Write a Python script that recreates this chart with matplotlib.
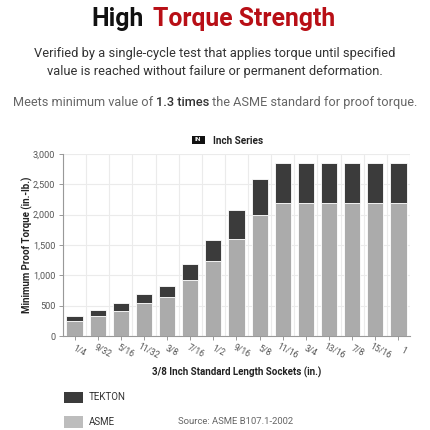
import matplotlib
matplotlib.use("Agg")
import matplotlib.pyplot as plt
import matplotlib.transforms as mtransforms
from matplotlib.patches import Rectangle
import numpy as np

plt.rcParams['font.family'] = ['Roboto', 'DejaVu Sans']

sizes = ["1/4", "9/32", "5/16", "11/32", "3/8", "7/16", "1/2", "9/16", "5/8",
         "11/16", "3/4", "13/16", "7/8", "15/16", "1"]
asme = [240, 330, 420, 540, 640, 920, 1230, 1600, 2000,
        2200, 2200, 2200, 2200, 2200, 2200]
tekton = [325, 430, 540, 700, 825, 1195, 1590, 2080, 2595,
          2845, 2845, 2845, 2845, 2845, 2845]
yticks = [0, 500, 1000, 1500, 2000, 2500, 3000]

DARK = "#3b3b3b"
LIGHT = "#ababab"
RED = "#b80f16"

W = H = 430
fig = plt.figure(figsize=(4.3, 4.3), dpi=100)
fig.patch.set_facecolor("white")

def fx(px):
    return px / W

def fy(py):
    return 1 - py / H

# Title
fig.text(fx(143.5), fy(26), "High", ha="right", va="baseline",
         fontsize=17.8, fontweight="bold", color="#111111")
fig.text(fx(153), fy(26), "Torque Strength", ha="left", va="baseline",
         fontsize=17.8, fontweight="bold", color=RED)

# Subtitle
fig.text(0.5, fy(56.5), "Verified by a single-cycle test that applies torque until specified",
         ha="center", va="baseline", fontsize=9.3, color="#333333")
fig.text(0.5, fy(75), "value is reached without failure or permanent deformation.",
         ha="center", va="baseline", fontsize=9.3, color="#333333")

# Mixed line
renderer = fig.canvas.get_renderer()
parts = [("Meets minimum value of ", "#666666", "normal"),
         ("1.3 times", "#333333", "medium"),
         (" the ASME standard for proof torque.", "#666666", "normal")]
texts = []
total = 0
for s, c, wgt in parts:
    t = fig.text(0, fy(106), s, ha="left", va="baseline", fontsize=9.2,
                 color=c, fontweight=wgt)
    bb = t.get_window_extent(renderer=renderer)
    texts.append((t, bb.width))
    total += bb.width
x0 = (W - total) / 2
for t, w in texts:
    t.set_x(fx(x0))
    x0 += w

# Inch series label
fig.patches.append(Rectangle((fx(191.5), fy(143.5)), fx(13), 7.5 / H,
                             transform=fig.transFigure, facecolor="#111111",
                             edgecolor="none"))
fig.text(fx(198), fy(139.8), "IN", ha="center", va="center", fontsize=4.5,
         fontweight="bold", color="white")
fig.text(fx(213), fy(143.5), "Inch Series", ha="left", va="baseline",
         fontsize=7.2, fontweight="bold", color="#222222")

# Axes
ax = fig.add_axes([fx(63), fy(336), fx(410) - fx(63), (336 - 154) / H])
x = np.arange(len(sizes))
diff = [t - a for t, a in zip(tekton, asme)]
ax.bar(x, asme, width=0.7, color=LIGHT, edgecolor="white", linewidth=0.6, zorder=3)
ax.bar(x, diff, bottom=asme, width=0.7, color=DARK, edgecolor="white",
       linewidth=0.6, zorder=3)

ax.set_xlim(-0.5, len(sizes) - 0.5)
ax.set_ylim(0, 3000)
ax.set_yticks(yticks)
ax.set_yticklabels([f"{v:,}" for v in yticks], fontsize=6.6, color="#555555")
ax.set_xticks(x)
ax.set_xticklabels(sizes, fontsize=6.2, color="#555555", rotation=-28,
                   ha="center", va="center", rotation_mode="anchor")
ax.set_xticks(np.arange(-0.5, len(sizes), 1), minor=True)
ax.grid(False)
ax.grid(True, which="minor", axis="x", color="#ebebeb", linewidth=0.8, zorder=0)
ax.grid(True, which="major", axis="y", color="#ebebeb", linewidth=0.8, zorder=0)
ax.tick_params(axis="x", which="minor", length=0)
ax.tick_params(axis="y", which="major", length=3, color="#999999", width=0.7,
               pad=2.5)
ax.tick_params(axis="x", which="major", length=3, color="#999999", width=0.7,
               pad=7.8)
offset = mtransforms.ScaledTranslation(5 / 100, 0, fig.dpi_scale_trans)
for lab in ax.get_xticklabels():
    lab.set_transform(lab.get_transform() + offset)
for side in ["top", "right"]:
    ax.spines[side].set_visible(False)
for side in ["left", "bottom"]:
    ax.spines[side].set_color("#999999")
    ax.spines[side].set_linewidth(0.8)

ax.set_ylabel("Minimum Proof Torque (in.-lb.)", fontsize=7, fontweight="bold",
              color="#222222")
ax.yaxis.set_label_coords((33 - 63) / (410 - 63), 0.5)
fig.text(fx(237), fy(375.5), "3/8 Inch Standard Length Sockets (in.)", ha="center",
         va="baseline", fontsize=7, fontweight="bold", color="#222222")

# Legend
fig.patches.append(Rectangle((fx(64), fy(403)), fx(19), 11 / H,
                             transform=fig.transFigure, facecolor=DARK,
                             edgecolor="none"))
fig.text(fx(89), fy(397.5), "TEKTON", ha="left", va="center", fontsize=7,
         color="#333333")
fig.patches.append(Rectangle((fx(64), fy(428)), fx(19), 12 / H,
                             transform=fig.transFigure, facecolor="#bdbdbd",
                             edgecolor="none"))
fig.text(fx(89), fy(422), "ASME", ha="left", va="center", fontsize=7,
         color="#333333")
fig.text(fx(178), fy(422), "Source: ASME B107.1-2002", ha="left", va="center",
         fontsize=6.8, color="#666666")

fig.savefig("out.png", dpi=100, facecolor="white")
